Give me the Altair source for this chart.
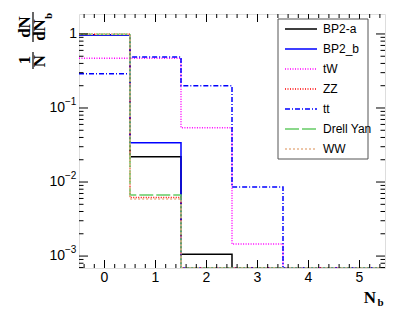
import altair as alt
import pandas as pd

# ---- data ----
edges = [-0.5, 0.5, 1.5, 2.5, 3.5, 4.5, 5.5]
series = ["BP2-a", "BP2_b", "tW", "ZZ", "tt", "Drell Yan", "WW"]
bp2a = [0.977, 0.022, 0.00106, 0, 0, 0]
bp2b = [0.966, 0.034, 0, 0, 0, 0]
tw = [0.47, 0.47, 0.054, 0.00145, 0, 0]
zz = [0.994, 0.0062, 0, 0, 0, 0]
tt = [0.29, 0.49, 0.20, 0.0086, 0, 0]
dy = [0.993, 0.0067, 0, 0, 0, 0]
ww = [0.994, 0.0059, 0, 0, 0, 0]
values = [bp2a, bp2b, tw, zz, tt, dy, ww]

colors = ["#000000", "#0000ff", "#ff00ff", "#ff0000", "#0000ff", "#66cc66", "#e8b48c"]
dashes = [[1, 0], [1, 0], [1, 1.5], [1, 1.5], [5, 2, 1, 2], [14, 3], [2, 2]]

x_major = [0, 1, 2, 3, 4, 5]
x_minor = [-0.4, -0.2, 0.2, 0.4, 0.6, 0.8, 1.2, 1.4, 1.6, 1.8, 2.2, 2.4, 2.6, 2.8,
           3.2, 3.4, 3.6, 3.8, 4.2, 4.4, 4.6, 4.8, 5.2, 5.4]
y_major = [0.001, 0.01, 0.1, 1]
y_label_exp = ["\u22123", "\u22122", "\u22121", ""]
y_minor = [7e-4, 8e-4, 9e-4] + [k * 1e-3 for k in range(2, 10)] + [k * 1e-2 for k in range(2, 10)] \
    + [k * 1e-1 for k in range(2, 10)]

YMIN, YMAX = 6.9e-4, 1.86
W, H = 306, 254

# ---- tables ----
rows = []
for s, vals in zip(series, values):
    pts = list(vals) + [vals[-1]]
    for e, v in zip(edges, pts):
        rows.append({"series": s, "x": e, "y": v if v > 0 else YMIN})
hist = pd.DataFrame(rows)

xs = alt.Scale(domain=[-0.5, 5.5], nice=False, zero=False)
ys = alt.Scale(type="log", domain=[YMIN, YMAX], nice=False)
cs = alt.Scale(domain=series, range=colors)
ds = alt.Scale(domain=series, range=dashes)

lines = alt.Chart(hist).mark_line(interpolate="step-after", strokeWidth=1.5, clip=True).encode(
    x=alt.X("x:Q", scale=xs, axis=None),
    y=alt.Y("y:Q", scale=ys, axis=None),
    color=alt.Color("series:N", scale=cs, legend=None),
    strokeDash=alt.StrokeDash("series:N", scale=ds, legend=None),
    detail="series:N",
)

# tick marks (ROOT style, inside the frame, on all four sides)
ymaj = pd.DataFrame({"v": y_major, "e": y_label_exp})
ymin = pd.DataFrame({"v": y_minor})
xmaj = pd.DataFrame({"v": x_major})
xmin = pd.DataFrame({"v": x_minor})

def yticks(df, length):
    left = alt.Chart(df).mark_rule(color="black", strokeWidth=1).encode(
        y=alt.Y("v:Q", scale=ys, axis=None), x=alt.value(0), x2=alt.value(length))
    right = alt.Chart(df).mark_rule(color="black", strokeWidth=1).encode(
        y=alt.Y("v:Q", scale=ys, axis=None), x=alt.value(W), x2=alt.value(W - length))
    return left + right

def xticks(df, length):
    bot = alt.Chart(df).mark_rule(color="black", strokeWidth=1).encode(
        x=alt.X("v:Q", scale=xs, axis=None), y=alt.value(H), y2=alt.value(H - length))
    top = alt.Chart(df).mark_rule(color="black", strokeWidth=1).encode(
        x=alt.X("v:Q", scale=xs, axis=None), y=alt.value(0), y2=alt.value(length))
    return bot + top

ticks = yticks(ymaj, 9) + yticks(ymin, 4.5) + xticks(xmaj, 8) + xticks(xmin, 4)

# tick labels
xlab = alt.Chart(xmaj).mark_text(font="Liberation Sans", fontSize=14, baseline="middle",
                                 align="center", color="black").encode(
    x=alt.X("v:Q", scale=xs, axis=None), y=alt.value(H + 10), text=alt.Text("v:Q", format="d"))

ybase = alt.Chart(ymaj).transform_calculate(
    t="datum.e == '' ? '1' : '10'", px="datum.e == '' ? -2 : -14"
).mark_text(font="Liberation Sans", fontSize=14, baseline="middle", align="right",
            color="black").encode(
    y=alt.Y("v:Q", scale=ys, axis=None), x=alt.X("px:Q", scale=None), text="t:N")
yexp = alt.Chart(ymaj).mark_text(font="Liberation Sans", fontSize=10, baseline="middle",
                                 align="left", dx=-14, dy=-6, color="black").encode(
    y=alt.Y("v:Q", scale=ys, axis=None), x=alt.value(0), text="e:N")

# axis titles
one = pd.DataFrame({"a": [0]})
def txt(s, x, y, size, angle=0):
    return alt.Chart(one).mark_text(text=s, font="Liberation Serif", fontWeight="bold",
                                    fontSize=size, angle=angle, align="center",
                                    baseline="middle", color="black").encode(
        x=alt.value(x), y=alt.value(y))

def bar(x, y1, y2):
    return alt.Chart(one).mark_rule(color="black", strokeWidth=1.2).encode(
        x=alt.value(x), y=alt.value(y1), y2=alt.value(y2))

ytitle = (txt("dN", -54, 13, 17, 270) + txt("dN", -39, 16, 17, 270) + txt("b", -30, 2, 11, 270)
          + bar(-46, -2, 28)
          + txt("1", -54, 46, 17, 270) + txt("N", -39, 47, 17, 270) + bar(-46, 38, 55))
xtitle = txt("N", 291, 283.5, 17) + txt("b", 301.5, 289, 11)

# legend
leg = pd.DataFrame({"series": series, "i": list(range(len(series)))})
box = alt.Chart(one).mark_rect(fill="white", stroke="#555555", strokeWidth=1).encode(
    x=alt.value(199), x2=alt.value(289), y=alt.value(5), y2=alt.value(145))
legbase = alt.Chart(leg).transform_calculate(ly="15 + 20 * datum.i")
legsym = legbase.mark_rule(strokeWidth=1.5).encode(
    x=alt.value(206), x2=alt.value(238), y=alt.Y("ly:Q", scale=None),
    color=alt.Color("series:N", scale=cs, legend=None),
    strokeDash=alt.StrokeDash("series:N", scale=ds, legend=None))
legtxt = legbase.mark_text(font="Liberation Sans", fontSize=12, align="left",
                           baseline="middle", color="black").encode(
    x=alt.value(244), y=alt.Y("ly:Q", scale=None), text="series:N")

chart = alt.layer(
    lines, ticks, xlab, ybase, yexp, ytitle, xtitle, box, legsym, legtxt
).properties(
    width=W, height=H,
    autosize=alt.AutoSizeParams(type="none"),
    padding={"left": 71, "top": 6, "right": 22, "bottom": 43},
).configure_view(stroke="black", strokeWidth=1).configure(background="white")

chart.save("out.html", embed_options={"renderer": "svg", "actions": False})
